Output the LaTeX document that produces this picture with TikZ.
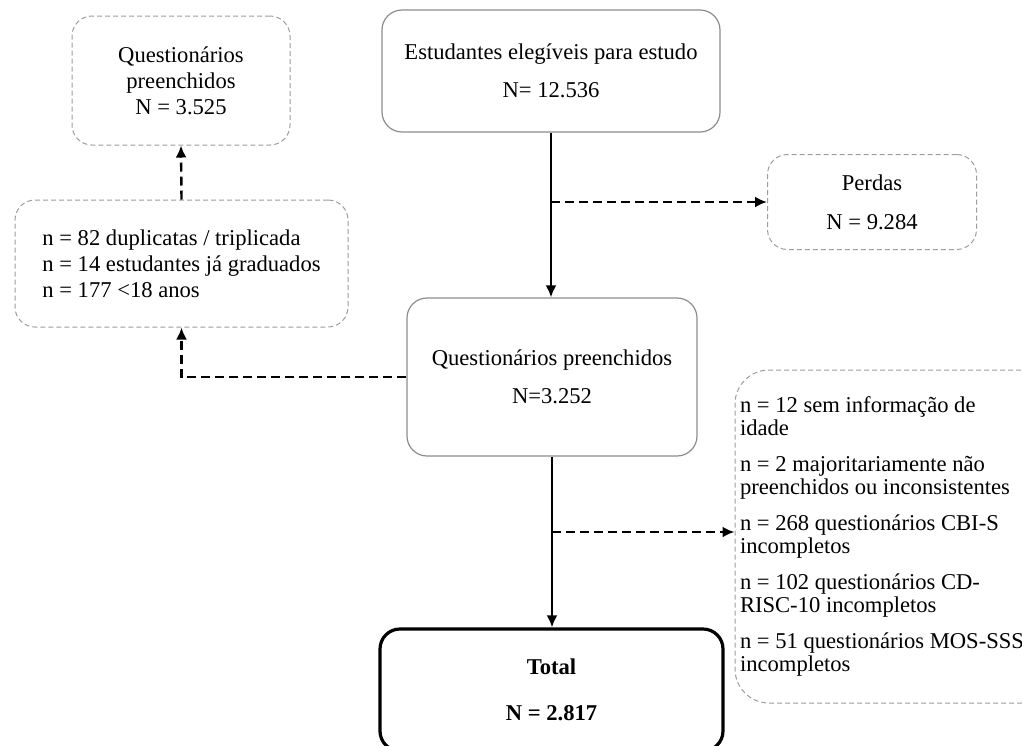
\documentclass[tikz,border=0pt]{standalone}
\usepackage{fontspec}
\setmainfont{Liberation Serif}
\usepackage{xcolor}
\usetikzlibrary{arrows.meta}
\definecolor{boxgray}{HTML}{8C8C8C}

\begin{document}
\begin{tikzpicture}[x=0.5pt, y=-0.5pt,
  font=\fontsize{11.3}{13}\selectfont,
  mainbox/.style={draw=boxgray, line width=0.6pt, rounded corners=10pt, align=center},
  sidebox/.style={draw=boxgray!85, line width=0.5pt, dash pattern=on 2.5pt off 1.5pt, rounded corners=10pt},
  totalbox/.style={draw=black, line width=1.6pt, rounded corners=10pt, align=center, font=\fontsize{11.3}{13}\selectfont\bfseries},
  flow/.style={line width=1.2pt, -{Latex[length=6pt,width=5.5pt]}},
  lossflow/.style={flow, dash pattern=on 4.5pt off 2.5pt}]
  \useasboundingbox (0,0) rectangle (1022,745);

  \node[mainbox, minimum width=169pt, minimum height=61pt] (eleg) at (551,71) {Estudantes elegíveis para estudo\\[6pt] N= 12.536};
  \node[sidebox, align=center, minimum width=109pt, minimum height=64.5pt] (questA) at (181,80.5) {Questionários\\ preenchidos\\ N = 3.525};
  \node[sidebox, align=center, minimum width=104.5pt, minimum height=47.5pt] (perdas) at (872,202) {Perdas\\[6.5pt] N = 9.284};
  \node[sidebox, align=left, minimum width=166.5pt, minimum height=63.5pt] (excl) at (181.5,263.5) {n = 82 duplicatas / triplicada\\ n = 14 estudantes já graduados\\ n = 177 <18 anos};
  \node[mainbox, minimum width=145pt, minimum height=79pt] (questB) at (552,377) {Questionários preenchidos\\[6pt] N=3.252};
  \node[sidebox, rounded corners=17pt, align=flush left, text width=155pt, inner xsep=2.5pt, font=\fontsize{11.3}{11.5}\selectfont, minimum width=160pt, minimum height=166.5pt] (incomp) at (895,536.5) {n = 12 sem informação de\\ idade\\[6.5pt]
    n = 2 majoritariamente não\\ preenchidos ou inconsistentes\\[6.5pt]
    n = 268 questionários CBI-S\\ incompletos\\[6.5pt]
    n = 102 questionários CD-\\ RISC-10 incompletos\\[6.5pt]
    n = 51 questionários MOS-SSS\\ incompletos};
  \node[totalbox, minimum width=171.5pt, minimum height=61pt] (total) at (551.5,690) {Total\\[10pt] N = 2.817};

  \draw[flow] (eleg.south) -- (eleg.south |- questB.north);
  \draw[lossflow] (eleg.south |- perdas.west) -- (perdas.west);
  \draw[lossflow] (questB.west) -| (excl.south);
  \draw[lossflow] (excl.north) -- (questA.south);
  \draw[flow] (questB.south) -- (questB.south |- total.north);
  \draw[lossflow] (questB.south |- 0,532) -- (incomp.west |- 0,532);
\end{tikzpicture}
\end{document}
